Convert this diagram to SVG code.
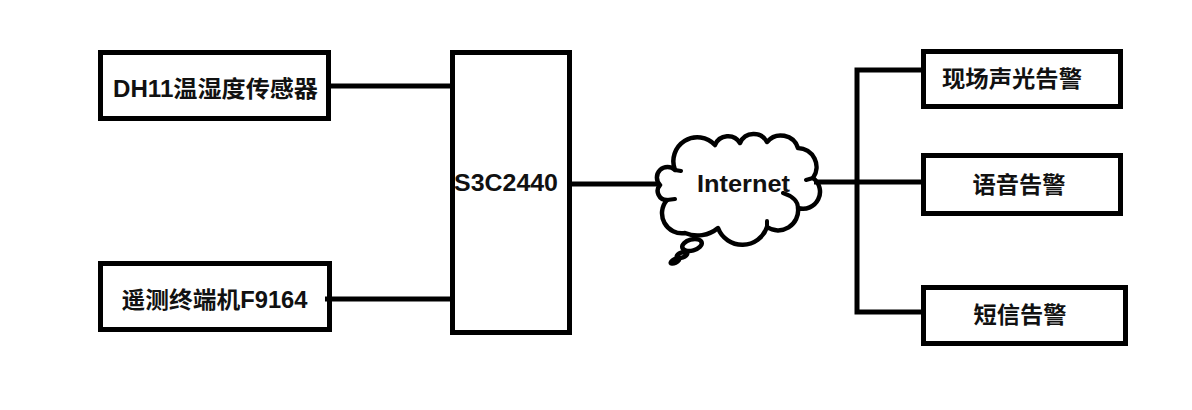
<svg xmlns="http://www.w3.org/2000/svg" width="1192" height="410" viewBox="0 0 1192 410">
<style>
.box{fill:#fff;stroke:#000;stroke-width:5}
.line{fill:none;stroke:#000;stroke-width:5}
.cloud{fill:#fff;stroke:#000;stroke-width:4.500;stroke-linejoin:round;stroke-linecap:round}
.tick{fill:none;stroke:#000;stroke-width:4;stroke-linecap:round}
text{font-family:"Liberation Sans","Noto Sans CJK SC",sans-serif;font-weight:700;font-size:23px;fill:#111;text-anchor:middle}
</style>
<rect width="1192" height="410" fill="#fff"/>
<g id="node-dh11"><rect class="box" x="100.500" y="52.500" width="228" height="66"/><text x="215.500" y="97" textLength="205" lengthAdjust="spacingAndGlyphs">DH11温湿度传感器</text></g>
<g id="node-f9164"><rect class="box" x="100.500" y="263.500" width="229" height="66"/><text x="214.500" y="308" textLength="186" lengthAdjust="spacingAndGlyphs">遥测终端机F9164</text></g>
<g id="node-s3c2440"><rect class="box" x="452.500" y="52.500" width="117" height="280"/><text x="506" y="191" textLength="104" lengthAdjust="spacingAndGlyphs">S3C2440</text></g>
<g id="node-internet">
<path class="cloud" d="M660 185A10 10 0 0 1 675 170A24 24 0 0 1 715 145A14 14 0 0 1 740 143A15 15 0 0 1 767 142A18 18 0 0 1 798 148A19 19 0 0 1 813 178A17 17 0 0 1 798 208A20 20 0 0 1 767 227A26 26 0 0 1 718 228A32 32 0 0 1 685 233A20 20 0 0 1 667 200A9 9 0 0 1 660 185Z"/>
<text x="743.500" y="192" textLength="93" lengthAdjust="spacingAndGlyphs">Internet</text>
<path class="tick" d="M675 170L681 171M667 200L675 199M783 193Q798 198 798 208M767 227V221M806 180L813 178"/>
<ellipse class="cloud" cx="692" cy="245" rx="10" ry="5.500" transform="rotate(-15 692 245)"/>
<ellipse class="cloud" cx="682" cy="255" rx="5.500" ry="2.500" transform="rotate(-20 682 255)"/>
<ellipse cx="675" cy="261" rx="7" ry="4" transform="rotate(-25 675 261)" fill="#000"/>
</g>
<g id="node-site-alarm"><rect class="box" x="923.500" y="51.500" width="197" height="55"/><text x="1012" y="87" textLength="140" lengthAdjust="spacingAndGlyphs">现场声光告警</text></g>
<g id="node-voice-alarm"><rect class="box" x="923.500" y="155.500" width="197" height="58"/><text x="1019" y="193" textLength="93" lengthAdjust="spacingAndGlyphs">语音告警</text></g>
<g id="node-sms-alarm"><rect class="box" x="923.500" y="287.500" width="202" height="56"/><text x="1020" y="323" textLength="93" lengthAdjust="spacingAndGlyphs">短信告警</text></g>
<g id="connectors">
<path class="line" d="M329 86H452"/>
<path class="line" d="M325 299H452"/>
<path class="line" d="M570 184H660"/>
<path class="line" d="M814 182H923"/>
<path class="line" d="M923 70H857V312H923"/>
</g>
</svg>
